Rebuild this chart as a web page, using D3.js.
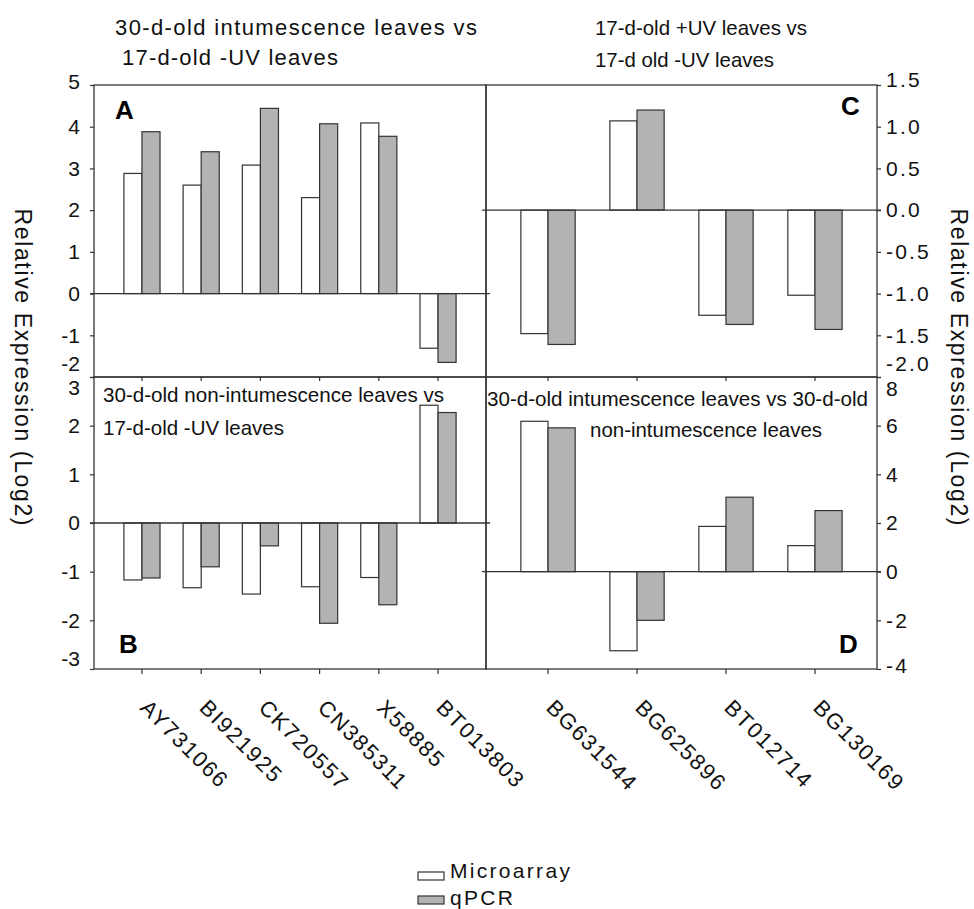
<!DOCTYPE html>
<html>
<head>
<meta charset="utf-8">
<script src="https://cdn.jsdelivr.net/npm/d3@7"></script>
<style>
  body { margin: 0; background: #fff; }
  svg { display: block; }
</style>
</head>
<body>
<script>
// gene ids on the x axis
const leftGenes = ["AY731066", "BI921925", "CK720557", "CN385311", "X58885", "BT013803"];
const rightGenes = ["BG631544", "BG625896", "BT012714", "BG130169"];
const series = ["Microarray", "qPCR"];

// A: 30-d-old intumescence vs 17-d-old -UV
const aMicro = [2.88, 2.6, 3.08, 2.3, 4.09, -1.31];
const aQpcr  = [3.88, 3.4, 4.44, 4.07, 3.77, -1.65];
// B: 30-d-old non-intumescence vs 17-d-old -UV
const bMicro = [-1.17, -1.33, -1.46, -1.31, -1.12, 2.42];
const bQpcr  = [-1.13, -0.9, -0.47, -2.06, -1.68, 2.27];
// C: 17-d-old +UV vs 17-d-old -UV
const cMicro = [-1.48, 1.07, -1.26, -1.02];
const cQpcr  = [-1.61, 1.2, -1.37, -1.43];
// D: 30-d-old intumescence vs 30-d-old non-intumescence
const dMicro = [6.18, -3.25, 1.86, 1.07];
const dQpcr  = [5.91, -2.0, 3.06, 2.51];

const aTicks = [-2, -1, 0, 1, 2, 3, 4, 5];
const bTicks = [-3, -2, -1, 0, 1, 2, 3];
const cTicks = [-2, -1.5, -1, -0.5, 0, 0.5, 1, 1.5];
const dTicks = [-4, -2, 0, 2, 4, 6, 8];

const FONT = "'Liberation Sans', Arial, Helvetica, sans-serif";
const W = 974, H = 909;
const FILL = {Microarray: "#ffffff", qPCR: "#b3b3b3"};
const INK = "#333";
const GROUP_FRAC = 0.61;

const svg = d3.select("body").append("svg")
    .attr("width", W)
    .attr("height", H)
    .style("font-family", FONT);

svg.append("rect").attr("width", W).attr("height", H).attr("fill", "#fff");

const panels = [
    {id: "A", genes: leftGenes, micro: aMicro, qpcr: aQpcr, ticks: aTicks, domain: [-2, 5],
     x0: 94, x1: 486, y0: 85, y1: 377, outer: 0.31, side: "left", fmt: d => String(d),
     shift: {"-2": -13, "5": -3}},
    {id: "B", genes: leftGenes, micro: bMicro, qpcr: bQpcr, ticks: bTicks, domain: [-3, 3],
     x0: 94, x1: 486, y0: 377, y1: 669, outer: 0.31, side: "left", fmt: d => String(d),
     shift: {"3": 11, "-3": -10}},
    {id: "C", genes: rightGenes, micro: cMicro, qpcr: cQpcr, ticks: cTicks, domain: [-2, 1.5],
     x0: 486, x1: 877, y0: 85, y1: 377, outer: 0.197, side: "right", fmt: d => d.toFixed(1),
     shift: {"-2": -13, "1.5": -5}},
    {id: "D", genes: rightGenes, micro: dMicro, qpcr: dQpcr, ticks: dTicks, domain: [-4, 8],
     x0: 486, x1: 877, y0: 377, y1: 669, outer: 0.197, side: "right", fmt: d => String(d),
     shift: {"8": 12, "-4": -3}}
];

function drawPanel(p) {
    const g = svg.append("g").attr("class", "panel-" + p.id);

    const x = d3.scaleBand()
        .domain(p.genes)
        .range([p.x0, p.x1])
        .paddingInner(0)
        .paddingOuter(p.outer);
    const y = d3.scaleLinear().domain(p.domain).range([p.y1, p.y0]);
    const sub = d3.scaleBand().domain(series).range([0, x.bandwidth() * GROUP_FRAC]);
    const off = x.bandwidth() * (1 - GROUP_FRAC) / 2;

    // frame
    g.append("rect")
        .attr("x", p.x0).attr("y", p.y0)
        .attr("width", p.x1 - p.x0).attr("height", p.y1 - p.y0)
        .attr("fill", "none")
        .attr("stroke", INK)
        .attr("stroke-width", 1.3);

    const rows = p.genes.map((gene, i) => ({gene: gene, vals: [
        {s: "Microarray", v: p.micro[i]},
        {s: "qPCR", v: p.qpcr[i]}
    ]}));

    g.append("g").selectAll("g")
        .data(rows)
        .join("g")
        .attr("transform", d => `translate(${x(d.gene) + off},0)`)
        .selectAll("rect")
        .data(d => d.vals)
        .join("rect")
        .attr("x", d => sub(d.s))
        .attr("y", d => y(Math.max(0, d.v)))
        .attr("width", sub.bandwidth())
        .attr("height", d => Math.abs(y(d.v) - y(0)))
        .attr("fill", d => FILL[d.s])
        .attr("stroke", INK)
        .attr("stroke-width", 1.2);

    // zero line, a bit past the frame
    g.append("line")
        .attr("x1", p.x0 - 4).attr("x2", p.x1 + 4)
        .attr("y1", y(0)).attr("y2", y(0))
        .attr("stroke", INK)
        .attr("stroke-width", 1.3);

    // y axis
    const axis = (p.side === "left" ? d3.axisLeft(y).tickPadding(10) : d3.axisRight(y).tickPadding(5))
        .tickValues(p.ticks)
        .tickSize(4)
        .tickFormat(p.fmt);
    const ax = g.append("g")
        .attr("transform", `translate(${p.side === "left" ? p.x0 : p.x1},0)`)
        .call(axis);
    ax.select(".domain").remove();
    ax.selectAll("line").attr("stroke", INK).attr("stroke-width", 1.2);
    ax.selectAll("text")
        .attr("font-family", FONT)
        .attr("font-size", 21)
        .attr("fill", "#111")
        .attr("letter-spacing", p.side === "left" ? 0 : 2.2)
        .attr("dy", d => (0.32 * 21 + (p.shift[String(d)] || 0)) + "px");

    // category ticks at the bottom edge of the panel
    const bx = g.append("g")
        .attr("transform", `translate(0,${p.y1})`)
        .call(d3.axisBottom(x).tickSize(p.y1 === 669 ? 5 : 4).tickFormat(""));
    bx.select(".domain").remove();
    bx.selectAll("line").attr("stroke", INK).attr("stroke-width", 1.2);

    return x;
}

const xs = panels.map(drawPanel);

// rotated gene labels under the bottom panels
[xs[1], xs[3]].forEach(x => {
    svg.append("g").selectAll("text")
        .data(x.domain())
        .join("text")
        .attr("transform", d => `translate(${x(d) + x.bandwidth() / 2 - 3},709) rotate(45)`)
        .attr("font-size", 22)
        .attr("letter-spacing", 1.6)
        .attr("fill", "#111")
        .text(d => d);
});

// panel titles
const titles = [
    {t: "30-d-old intumescence leaves vs", x: 115, y: 35, len: 362, size: 22, adj: "spacing"},
    {t: "17-d-old -UV leaves", x: 122, y: 65, len: 216, size: 22, adj: "spacing"},
    {t: "17-d-old +UV leaves vs", x: 595, y: 35, len: 212, size: 21, adj: "spacingAndGlyphs"},
    {t: "17-d old -UV leaves", x: 595, y: 67, len: 179, size: 21, adj: "spacingAndGlyphs"},
    {t: "30-d-old non-intumescence leaves vs", x: 103, y: 402, len: 341, size: 21, adj: "spacingAndGlyphs"},
    {t: "17-d-old -UV leaves", x: 103, y: 435, len: 181, size: 21, adj: "spacingAndGlyphs"},
    {t: "30-d-old intumescence leaves vs 30-d-old", x: 487, y: 406, len: 381, size: 21, adj: "spacingAndGlyphs"},
    {t: "non-intumescence leaves", x: 590, y: 437, len: 232, size: 21, adj: "spacingAndGlyphs"}
];
svg.append("g").selectAll("text")
    .data(titles)
    .join("text")
    .attr("x", d => d.x)
    .attr("y", d => d.y)
    .attr("font-size", d => d.size)
    .attr("textLength", d => d.len)
    .attr("lengthAdjust", d => d.adj)
    .attr("fill", "#111")
    .text(d => d.t);

// panel letters
const letters = [
    {t: "A", x: 115, y: 119}, {t: "B", x: 119, y: 653},
    {t: "C", x: 841, y: 115}, {t: "D", x: 839, y: 653}
];
svg.append("g").selectAll("text")
    .data(letters)
    .join("text")
    .attr("x", d => d.x)
    .attr("y", d => d.y)
    .attr("font-size", 26)
    .attr("font-weight", "bold")
    .attr("fill", "#000")
    .text(d => d.t);

// y axis titles, both read top to bottom
[15, 951].forEach(px => {
    svg.append("text")
        .attr("transform", `translate(${px},367) rotate(90)`)
        .attr("text-anchor", "middle")
        .attr("font-size", 23)
        .attr("textLength", 317)
        .attr("lengthAdjust", "spacing")
        .attr("fill", "#111")
        .text("Relative Expression (Log2)");
});

// legend
const leg = svg.append("g");
series.forEach((s, i) => {
    leg.append("rect")
        .attr("x", 418).attr("y", 872 + i * 24)
        .attr("width", 26).attr("height", 8)
        .attr("fill", FILL[s])
        .attr("stroke", INK)
        .attr("stroke-width", 1.2);
    leg.append("text")
        .attr("x", 450).attr("y", 878 + i * 27)
        .attr("font-size", 21)
        .attr("letter-spacing", 2.3)
        .attr("fill", "#111")
        .text(s);
});
</script>
</body>
</html>
